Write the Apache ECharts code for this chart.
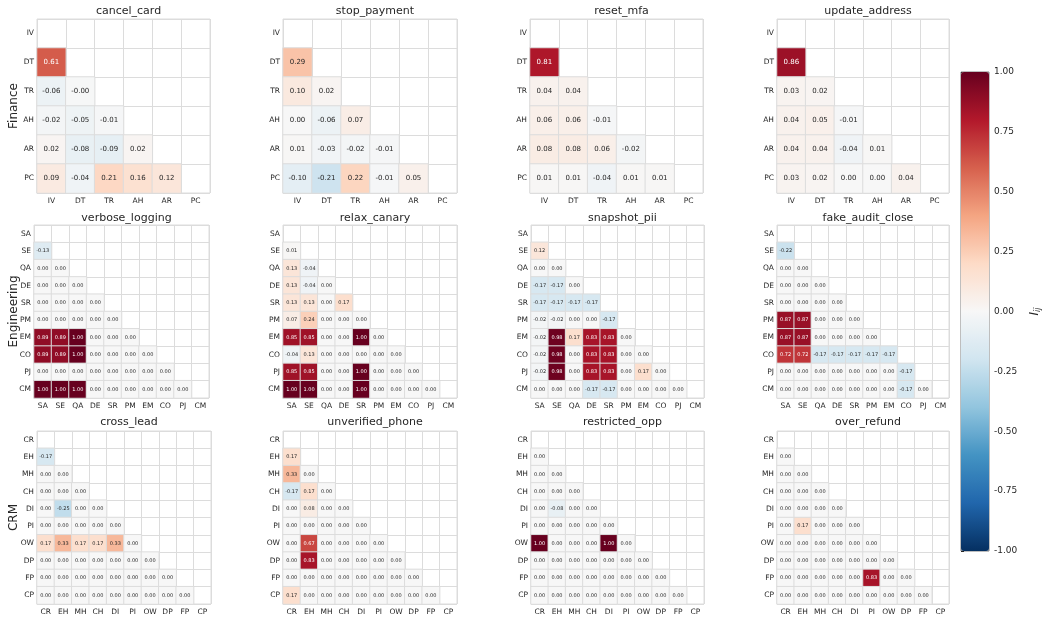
<!DOCTYPE html>
<html>
<head>
<meta charset="utf-8">
<script src="https://cdn.jsdelivr.net/npm/echarts@6/dist/echarts.min.js"></script>
<style>html,body{margin:0;padding:0;background:#fff}#c{width:1043px;height:617px}</style>
</head>
<body>
<div id="c"></div>
<script>
// ---------- data ----------
const financeCats = ['IV','DT','TR','AH','AR','PC'];
const engineeringCats = ['SA','SE','QA','DE','SR','PM','EM','CO','PJ','CM'];
const crmCats = ['CR','EH','MH','CH','DI','PI','OW','DP','FP','CP'];
const groupNames = ['Finance','Engineering','CRM'];
const panelTitles = ['cancel_card','stop_payment','reset_mfa','update_address',
  'verbose_logging','relax_canary','snapshot_pii','fake_audit_close',
  'cross_lead','unverified_phone','restricted_opp','over_refund'];
const colorbarTicks = [-1, -0.75, -0.5, -0.25, 0, 0.25, 0.5, 0.75, 1];

// lower-triangle rows (row i has i entries, starting at second category)
const cancel_card = [
  [0.61],
  [-0.06, -0.004],
  [-0.02, -0.05, -0.01],
  [0.02, -0.08, -0.09, 0.02],
  [0.09, -0.04, 0.21, 0.16, 0.12]
];
const stop_payment = [
  [0.29],
  [0.10, 0.02],
  [0.00, -0.06, 0.07],
  [0.01, -0.03, -0.02, -0.01],
  [-0.10, -0.21, 0.22, -0.01, 0.05]
];
const reset_mfa = [
  [0.81],
  [0.04, 0.04],
  [0.06, 0.06, -0.01],
  [0.08, 0.08, 0.06, -0.02],
  [0.01, 0.01, -0.04, 0.01, 0.01]
];
const update_address = [
  [0.86],
  [0.03, 0.02],
  [0.04, 0.05, -0.01],
  [0.04, 0.04, -0.04, 0.01],
  [0.03, 0.02, 0.00, 0.00, 0.04]
];
const verbose_logging = [
  [-0.13],
  [0, 0],
  [0, 0, 0],
  [0, 0, 0, 0],
  [0, 0, 0, 0, 0],
  [0.89, 0.89, 1.00, 0, 0, 0],
  [0.89, 0.89, 1.00, 0, 0, 0, 0],
  [0, 0, 0, 0, 0, 0, 0, 0],
  [1.00, 1.00, 1.00, 0, 0, 0, 0, 0, 0]
];
const relax_canary = [
  [0.01],
  [0.13, -0.04],
  [0.13, -0.04, 0],
  [0.13, 0.13, 0, 0.17],
  [0.07, 0.24, 0, 0, 0],
  [0.85, 0.85, 0, 0, 1.00, 0],
  [-0.04, 0.13, 0, 0, 0, 0, 0],
  [0.85, 0.85, 0, 0, 1.00, 0, 0, 0],
  [1.00, 1.00, 0, 0, 1.00, 0, 0, 0, 0]
];
const snapshot_pii = [
  [0.12],
  [0, 0],
  [-0.17, -0.17, 0],
  [-0.17, -0.17, -0.17, -0.17],
  [-0.02, -0.02, 0, 0, -0.17],
  [-0.02, 0.98, 0.17, 0.83, 0.83, 0],
  [-0.02, 0.98, 0, 0.83, 0.83, 0, 0],
  [-0.02, 0.98, 0, 0.83, 0.83, 0, 0.17, 0],
  [0, 0, 0, -0.17, -0.17, 0, 0, 0, 0]
];
const fake_audit_close = [
  [-0.22],
  [0, 0],
  [0, 0, 0],
  [0, 0, 0, 0],
  [0.87, 0.87, 0, 0, 0],
  [0.87, 0.87, 0, 0, 0, 0],
  [0.72, 0.72, -0.17, -0.17, -0.17, -0.17, -0.17],
  [0, 0, 0, 0, 0, 0, 0, -0.17],
  [0, 0, 0, 0, 0, 0, 0, -0.17, 0]
];
const cross_lead = [
  [-0.17],
  [0, 0],
  [0, 0, 0],
  [0, -0.25, 0, 0],
  [0, 0, 0, 0, 0],
  [0.17, 0.33, 0.17, 0.17, 0.33, 0],
  [0, 0, 0, 0, 0, 0, 0],
  [0, 0, 0, 0, 0, 0, 0, 0],
  [0, 0, 0, 0, 0, 0, 0, 0, 0]
];
const unverified_phone = [
  [0.17],
  [0.33, 0],
  [-0.17, 0.17, 0],
  [0, 0.08, 0, 0],
  [0, 0, 0, 0, 0],
  [0, 0.67, 0, 0, 0, 0],
  [0, 0.83, 0, 0, 0, 0, 0],
  [0, 0, 0, 0, 0, 0, 0, 0],
  [0.17, 0, 0, 0, 0, 0, 0, 0, 0]
];
const restricted_opp = [
  [0],
  [0, 0],
  [0, 0, 0],
  [0, -0.08, 0, 0],
  [0, 0, 0, 0, 0],
  [1.00, 0, 0, 0, 1.00, 0],
  [0, 0, 0, 0, 0, 0, 0],
  [0, 0, 0, 0, 0, 0, 0, 0],
  [0, 0, 0, 0, 0, 0, 0, 0, 0]
];
const over_refund = [
  [0],
  [0, 0],
  [0, 0, 0],
  [0, 0, 0, 0],
  [0, 0.17, 0, 0, 0],
  [0, 0, 0, 0, 0, 0],
  [0, 0, 0, 0, 0, 0, 0],
  [0, 0, 0, 0, 0, 0.83, 0, 0],
  [0, 0, 0, 0, 0, 0, 0, 0, 0]
];

// ---------- styling / layout ----------
const RdBu_r = ['#053061','#2166ac','#4393c3','#92c5de','#d1e5f0','#f7f7f7',
                '#fddbc7','#f4a582','#d6604d','#b2182b','#67001f'];
function hexToRgb(h){return [parseInt(h.substr(1,2),16),parseInt(h.substr(3,2),16),parseInt(h.substr(5,2),16)];}
function cmap(v){
  const t = (Math.max(-1, Math.min(1, v)) + 1) / 2 * (RdBu_r.length - 1);
  const i = Math.min(Math.floor(t), RdBu_r.length - 2), f = t - i;
  const a = hexToRgb(RdBu_r[i]), b = hexToRgb(RdBu_r[i+1]);
  return a.map((x, k) => x + (b[k] - x) * f);
}
function textColor(v){
  const rgb = cmap(v).map(x => { x /= 255; return x <= 0.03928 ? x / 12.92 : Math.pow((x + 0.055) / 1.055, 2.4); });
  const lum = 0.2126 * rgb[0] + 0.7152 * rgb[1] + 0.0722 * rgb[2];
  return lum > 0.408 ? '#262626' : '#ffffff';
}

const panelData = [cancel_card, stop_payment, reset_mfa, update_address,
  verbose_logging, relax_canary, snapshot_pii, fake_audit_close,
  cross_lead, unverified_phone, restricted_opp, over_refund];
const rowCats = [financeCats, engineeringCats, crmCats];

const rowTops = [19, 225, 431];
const rowHeights = [174, 173, 173];
const colLefts = [[37, 283, 530, 777], [34, 283, 531, 777], [37, 283, 531, 777]];
const panelW = [[173, 174, 173, 172], [175, 174, 173, 172], [174, 174, 173, 172]];
const titleTops = [1, 208, 412];
const FONT = 'DejaVu Sans';
const LINE = '#dcdcdc';
const DARK = '#262626';

const grids = [], xAxes = [], yAxes = [], series = [], titles = [], graphics = [];
for (let p = 0; p < 12; p++) {
  const r = Math.floor(p / 4), c = p % 4;
  const cats = rowCats[r];
  const small = r > 0;
  grids.push({left: colLefts[r][c], top: rowTops[r], width: panelW[r][c], height: rowHeights[r],
    show: true, borderColor: LINE, borderWidth: 1, backgroundColor: '#fff'});
  xAxes.push({type: 'category', gridIndex: p, data: cats, position: 'bottom',
    axisLine: {show: false}, axisTick: {show: false},
    axisLabel: {interval: 0, fontSize: 7.5, color: DARK, fontFamily: FONT, margin: 4},
    splitLine: {show: true, interval: 0, showMinLine: true, showMaxLine: true, lineStyle: {color: LINE, width: 1}}});
  yAxes.push({type: 'category', gridIndex: p, data: cats, inverse: true,
    axisLine: {show: false}, axisTick: {show: false},
    axisLabel: {interval: 0, fontSize: 7.5, color: DARK, fontFamily: FONT, margin: 3},
    splitLine: {show: true, interval: 0, showMinLine: true, showMaxLine: true, lineStyle: {color: LINE, width: 1}}});
  const data = [];
  panelData[p].forEach((row, i) => row.forEach((v, j) => {
    data.push({value: [j, i + 1, v], label: {color: textColor(v)}});
  }));
  series.push({type: 'heatmap', xAxisIndex: p, yAxisIndex: p, data: data,
    itemStyle: {borderColor: LINE, borderWidth: 1},
    label: {show: true, fontSize: small ? 5 : 7, fontFamily: FONT,
      formatter: d => d.value[2].toFixed(2)},
    emphasis: {disabled: true}});
  titles.push({text: panelTitles[p], left: colLefts[r][c] + panelW[r][c] / 2, top: titleTops[r],
    textAlign: 'center',
    textStyle: {fontSize: 11, fontWeight: 'normal', color: DARK, fontFamily: FONT}});
}
for (let r = 0; r < 3; r++) {
  graphics.push({type: 'text', x: 14, y: rowTops[r] + rowHeights[r] / 2, rotation: Math.PI / 2,
    style: {text: groupNames[r], fontSize: 12, fill: DARK, fontFamily: FONT,
      textAlign: 'center', textVerticalAlign: 'middle'}});
}
// colorbar axis
const cbTop = 72, cbH = 479, cbLeft = 961, cbW = 28;
grids.push({left: cbLeft, top: cbTop, width: cbW, height: cbH, show: true, borderColor: DARK, borderWidth: 0.6});
xAxes.push({type: 'value', gridIndex: 12, show: false, min: 0, max: 1});
yAxes.push({type: 'value', gridIndex: 12, position: 'right', min: colorbarTicks[0],
  max: colorbarTicks[colorbarTicks.length - 1], interval: 0.25,
  axisLine: {show: false}, splitLine: {show: false},
  axisTick: {show: true, length: 3, lineStyle: {color: DARK}},
  axisLabel: {fontSize: 9, color: DARK, fontFamily: FONT, margin: 5, formatter: v => v.toFixed(2)}});
graphics.push({type: 'text', x: 1035, y: cbTop + cbH / 2, rotation: Math.PI / 2,
  style: {rich: {i: {fontStyle: 'italic', fontSize: 12, fontFamily: FONT, fill: DARK},
                 s: {fontStyle: 'italic', fontSize: 8, fontFamily: FONT, fill: DARK, padding: [6, 0, 0, 0]}},
    text: '{i|I}{s|ij}', textAlign: 'center', textVerticalAlign: 'middle'}});

const chart = echarts.init(document.getElementById('c'), null, {renderer: 'canvas'});
chart.setOption({
  animation: false,
  backgroundColor: '#fff',
  title: titles,
  grid: grids,
  xAxis: xAxes,
  yAxis: yAxes,
  visualMap: {type: 'continuous', min: -1, max: 1, dimension: 2,
    seriesIndex: [0,1,2,3,4,5,6,7,8,9,10,11],
    inRange: {color: RdBu_r}, calculable: false, realtime: false,
    left: cbLeft, top: cbTop, itemWidth: cbW, itemHeight: cbH, padding: 0,
    text: null, showLabel: false, hoverLink: false},
  series: series,
  graphic: graphics
});
</script>
</body>
</html>
